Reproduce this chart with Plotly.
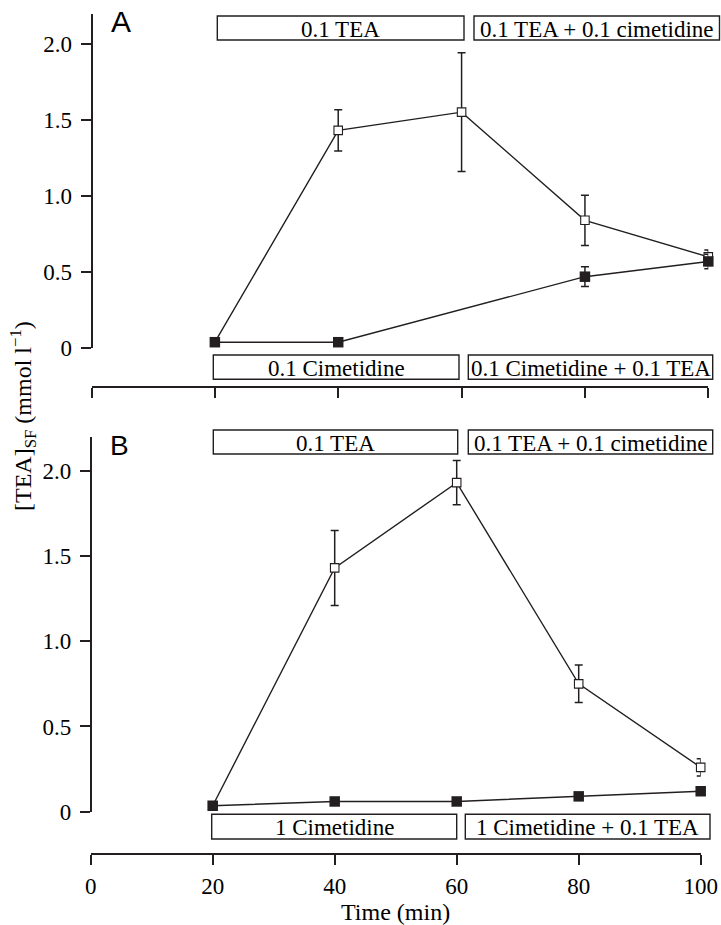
import plotly.graph_objects as go

# ---- data: [TEA] in secreted fluid (mmol l-1) vs time (min) ----
# Panel A (0.1 mmol l-1 cimetidine)
time_a_open = [20, 40, 60, 80, 100]
tea_a_open = [0.04, 1.43, 1.55, 0.84, 0.60]
err_a_open = [0.0, 0.135, 0.39, 0.165, 0.045]

time_a_filled = [20, 40, 80, 100]
tea_a_filled = [0.04, 0.04, 0.47, 0.57]
err_a_filled = [0.0, 0.0, 0.065, 0.048]

# Panel B (1 mmol l-1 cimetidine)
time_b_open = [20, 40, 60, 80, 100]
tea_b_open = [0.035, 1.43, 1.93, 0.75, 0.26]
err_b_open = [0.0, 0.22, 0.13, 0.11, 0.05]

time_b_filled = [20, 40, 60, 80, 100]
tea_b_filled = [0.035, 0.06, 0.06, 0.09, 0.12]

y_ticks = [0, 0.5, 1.0, 1.5, 2.0]
y_tick_labels = ["0", "0.5", "1.0", "1.5", "2.0"]
x_ticks = [0, 20, 40, 60, 80, 100]

# treatment period labels
labels_a_top = ["0.1 TEA", "0.1 TEA + 0.1 cimetidine"]
labels_a_bottom = ["0.1 Cimetidine", "0.1 Cimetidine + 0.1 TEA"]
labels_b_top = ["0.1 TEA", "0.1 TEA + 0.1 cimetidine"]
labels_b_bottom = ["1 Cimetidine", "1 Cimetidine + 0.1 TEA"]

# ---- layout helpers (figure laid out in pixels, converted to paper units) ----
W, H = 721, 925
INK = "#231f20"
SERIF = "Liberation Serif, Times New Roman, serif"
SANS = "Liberation Sans, Arial, sans-serif"


def fx(x):
    return x / W


def fy(y):
    return 1 - y / H


fig = go.Figure()


def add_series(x, y, err, xa, ya, hollow):
    fig.add_trace(go.Scatter(
        x=x, y=y, xaxis=xa, yaxis=ya, mode="lines+markers",
        line=dict(color=INK, width=1.4),
        marker=dict(symbol="square",
                    size=8.5 if hollow else 10.5,
                    color="white" if hollow else INK,
                    line=dict(color=INK, width=1.1 if hollow else 0)),
        error_y=dict(type="data", array=err, visible=err is not None,
                     color=INK, thickness=1.5, width=4),
        cliponaxis=False, showlegend=False, hoverinfo="x+y",
    ))


add_series(time_a_open, tea_a_open, err_a_open, "x", "y", True)
add_series(time_a_filled, tea_a_filled, err_a_filled, "x", "y", False)
add_series(time_b_open, tea_b_open, err_b_open, "x2", "y2", True)
add_series(time_b_filled, tea_b_filled, None, "x2", "y2", False)

axis_style = dict(
    showline=True, linecolor=INK, linewidth=1.6,
    ticks="outside", ticklen=10, tickwidth=1.6, tickcolor=INK,
    showgrid=False, zeroline=False, automargin=False, fixedrange=True,
    tickfont=dict(family=SERIF, size=23, color="black"),
)

fig.update_layout(
    width=W, height=H,
    margin=dict(l=0, r=0, t=0, b=0),
    paper_bgcolor="white", plot_bgcolor="white",
    xaxis=dict(domain=[fx(91.5), fx(708.3)], range=[0, 100],
               anchor="free", position=fy(386.7),
               tickvals=x_ticks, showticklabels=False, **axis_style),
    yaxis=dict(domain=[fy(348.3), fy(14)], range=[0, 2.194],
               anchor="free", position=fx(91.5),
               tickvals=y_ticks, ticktext=y_tick_labels,
               ticklabelstandoff=4, **axis_style),
    xaxis2=dict(domain=[fx(90.7), fx(700.7)], range=[0, 100],
                anchor="free", position=fy(854),
                tickvals=x_ticks, ticklabelstandoff=2, **axis_style),
    yaxis2=dict(domain=[fy(811.7), fy(437.3)], range=[0, 2.196],
                anchor="free", position=fx(90.7),
                tickvals=y_ticks, ticktext=y_tick_labels,
                ticklabelstandoff=4, **axis_style),
)

# treatment boxes: (left, right, top, bottom) in pixels
box_rows = [
    (labels_a_top, [(217.3, 464.0), (474.0, 719.5)], (16, 40)),
    (labels_a_bottom, [(213.3, 459.0), (468.3, 712.7)], (355, 379.3)),
    (labels_b_top, [(213.3, 457.7), (468.3, 712.7)], (430, 454)),
    (labels_b_bottom, [(211.7, 456.7), (465.3, 710.0)], (814.3, 839)),
]

shapes = []
annotations = []
for texts, spans, (top, bottom) in box_rows:
    for text, (left, right) in zip(texts, spans):
        shapes.append(dict(type="rect", xref="paper", yref="paper",
                           x0=fx(left), x1=fx(right), y0=fy(bottom), y1=fy(top),
                           line=dict(color=INK, width=1.4), fillcolor="white",
                           layer="above"))
        annotations.append(dict(text=text, xref="paper", yref="paper",
                                x=fx((left + right) / 2), y=fy((top + bottom) / 2 + 1),
                                xanchor="center", yanchor="middle", showarrow=False,
                                font=dict(family=SERIF, size=23, color="black")))

# panel letters
annotations.append(dict(text="A", xref="paper", yref="paper", x=fx(109), y=fy(22),
                        xanchor="left", yanchor="middle", showarrow=False,
                        font=dict(family=SANS, size=30, color="black")))
annotations.append(dict(text="B", xref="paper", yref="paper", x=fx(108), y=fy(445),
                        xanchor="left", yanchor="middle", showarrow=False,
                        font=dict(family=SANS, size=28, color="black")))

# axis titles
annotations.append(dict(text="[TEA]<sub>SF</sub> (mmol l<sup>\u22121</sup>)",
                        xref="paper", yref="paper", x=fx(23), y=fy(416),
                        xanchor="center", yanchor="middle", textangle=-90,
                        showarrow=False,
                        font=dict(family=SERIF, size=24, color="black")))
annotations.append(dict(text="Time (min)", xref="paper", yref="paper",
                        x=fx(395), y=fy(912), xanchor="center", yanchor="middle",
                        showarrow=False,
                        font=dict(family=SERIF, size=24, color="black")))

fig.update_layout(shapes=shapes, annotations=annotations)

fig.write_html("out.html")
